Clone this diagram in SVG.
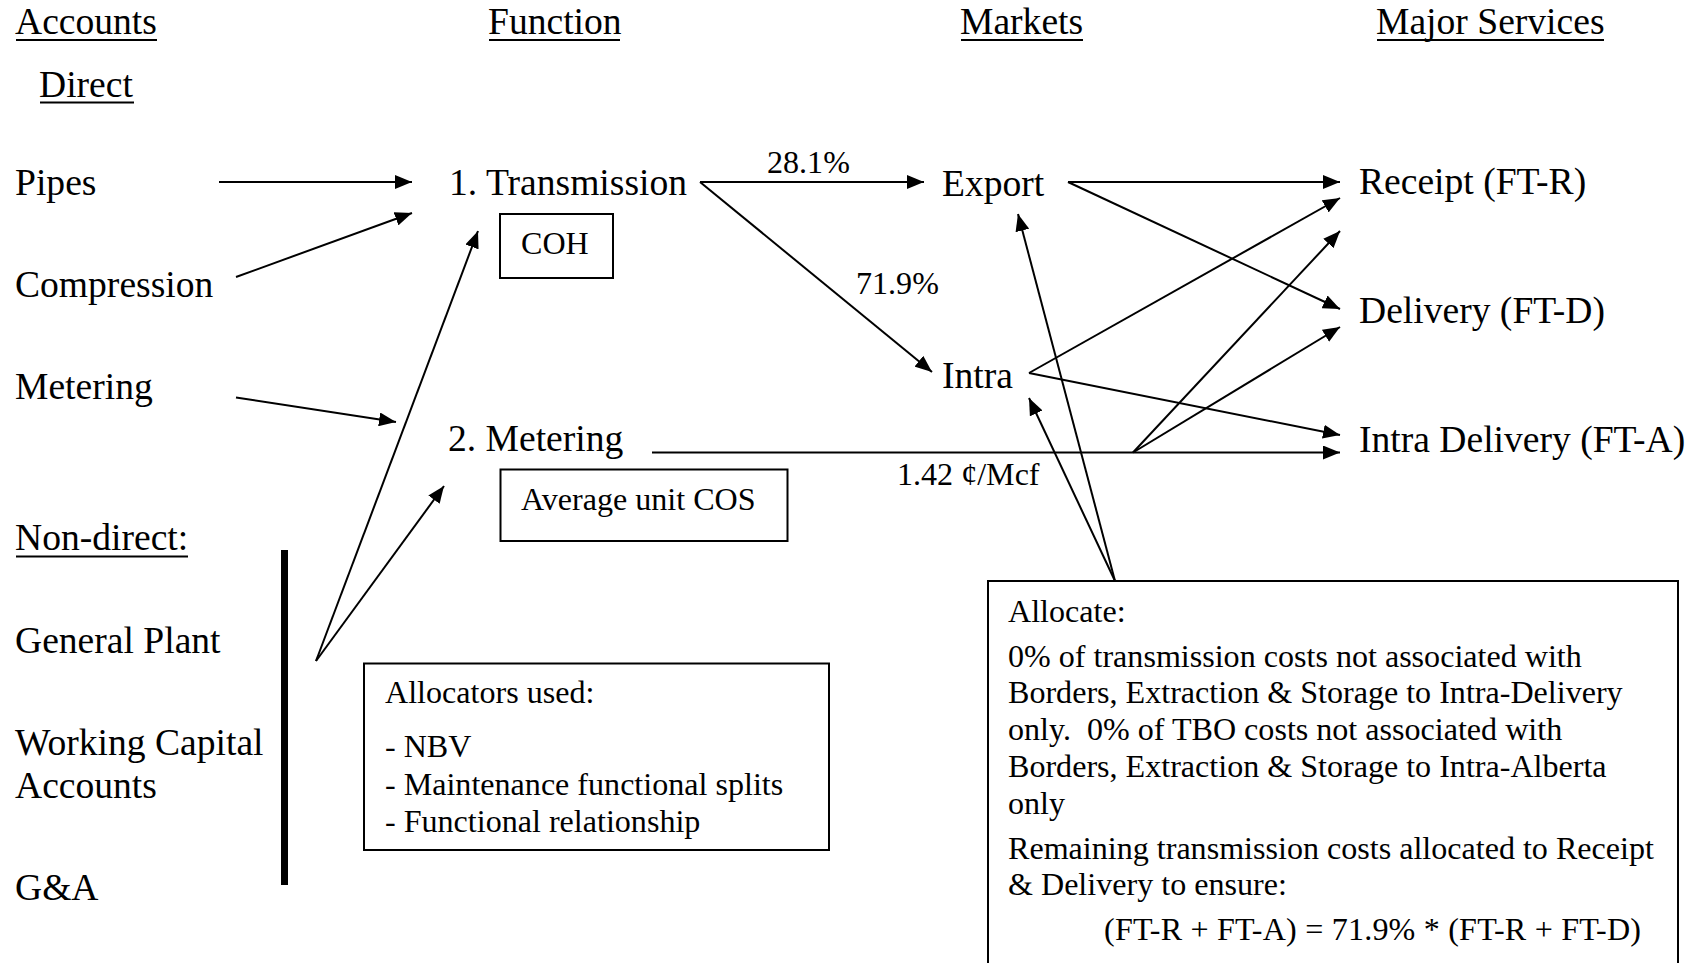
<svg xmlns="http://www.w3.org/2000/svg" width="1703" height="963" viewBox="0 0 1703 963">
<style>
text{font-family:"Liberation Serif","Times New Roman",serif;fill:#000}
.m{font-size:37.6px}
.s{font-size:32.1px}
.ul{stroke:#000;stroke-width:2}
.c{stroke:#000;stroke-width:2;fill:none;marker-end:url(#ah)}
.box{fill:#fff;stroke:#000;stroke-width:2}
</style>
<defs>
<marker id="ah" markerUnits="userSpaceOnUse" markerWidth="18" markerHeight="14" refX="17" refY="7" orient="auto">
<path d="M0,0 L17,7 L0,14 z" fill="#000"/>
</marker>
</defs>
<rect width="1703" height="963" fill="#fff"/>
<g id="headers">
<text class="m" x="15" y="34">Accounts</text><line class="ul" x1="16" y1="40" x2="157" y2="40"/>
<text class="m" x="488" y="34">Function</text><line class="ul" x1="489" y1="40" x2="620" y2="40"/>
<text class="m" x="960" y="34">Markets</text><line class="ul" x1="961" y1="40" x2="1083" y2="40"/>
<text class="m" x="1376" y="34">Major Services</text><line class="ul" x1="1377" y1="40" x2="1604" y2="40"/>
<text class="m" x="39" y="96.5">Direct</text><line class="ul" x1="40" y1="102.5" x2="134" y2="102.5"/>
<text class="m" x="15" y="550">Non-direct:</text><line class="ul" x1="16" y1="556.5" x2="188" y2="556.5"/>
</g>
<g id="connectors">
<line class="c" x1="219" y1="182" x2="412" y2="182"/>
<line class="c" x1="236" y1="277" x2="412" y2="213"/>
<line class="c" x1="236" y1="397.5" x2="396" y2="422"/>
<line class="c" x1="316" y1="661" x2="478" y2="231"/>
<line class="c" x1="316" y1="661" x2="444" y2="486"/>
<line class="c" x1="700" y1="182" x2="924" y2="182"/>
<line class="c" x1="700" y1="182" x2="932" y2="372"/>
<line class="c" x1="1068" y1="182" x2="1340" y2="182"/>
<line class="c" x1="1068" y1="182" x2="1340" y2="309"/>
<line class="c" x1="1029" y1="373" x2="1340" y2="198"/>
<line class="c" x1="1029" y1="373" x2="1340" y2="435"/>
<line class="c" x1="652" y1="452.5" x2="1340" y2="452.5"/>
<line class="c" x1="1133" y1="452.5" x2="1340" y2="231"/>
<line class="c" x1="1133" y1="452.5" x2="1340" y2="327"/>
<line class="c" x1="1115" y1="581" x2="1018" y2="214"/>
<line class="c" x1="1115" y1="581" x2="1029" y2="398"/>
<line x1="284.5" y1="550" x2="284.5" y2="885" stroke="#000" stroke-width="7"/>
</g>
<g id="labels">
<text class="s" x="767" y="173">28.1%</text>
<text class="s" x="856" y="293.5">71.9%</text>
<text class="s" x="897" y="484.5">1.42 ¢/Mcf</text>
</g>
<g id="acc-pipes"><text class="m" x="15" y="194.5">Pipes</text></g>
<g id="acc-compression"><text class="m" x="15" y="296.5">Compression</text></g>
<g id="acc-metering"><text class="m" x="15" y="398.5">Metering</text></g>
<g id="acc-general-plant"><text class="m" x="15" y="653">General Plant</text></g>
<g id="acc-working-capital"><text class="m" x="15" y="755">Working Capital</text><text class="m" x="15" y="798">Accounts</text></g>
<g id="acc-ga"><text class="m" x="15" y="900">G&amp;A</text></g>
<g id="fn-transmission"><text class="m" x="449" y="194.5">1. Transmission</text>
<rect class="box" x="500" y="214" width="113" height="64"/>
<text class="s" x="521" y="254">COH</text></g>
<g id="fn-metering"><text class="m" x="448" y="451">2. Metering</text>
<rect class="box" x="500.5" y="469.5" width="287" height="71.5"/>
<text class="s" x="521" y="510">Average unit COS</text></g>
<g id="mk-export"><text class="m" x="942" y="195.5">Export</text></g>
<g id="mk-intra"><text class="m" x="942" y="388">Intra</text></g>
<g id="sv-receipt"><text class="m" x="1359" y="194">Receipt (FT-R)</text></g>
<g id="sv-delivery"><text class="m" x="1359" y="323">Delivery (FT-D)</text></g>
<g id="sv-intra-delivery"><text class="m" x="1359" y="452">Intra Delivery (FT-A)</text></g>
<g id="allocators-box">
<rect class="box" x="364" y="663.5" width="465" height="186.5"/>
<text class="s" x="385" y="703">Allocators used:</text>
<text class="s" x="385" y="757">- NBV</text>
<text class="s" x="385" y="795">- Maintenance functional splits</text>
<text class="s" x="385" y="832">- Functional relationship</text>
</g>
<g id="allocate-box">
<rect class="box" x="988" y="581" width="690" height="400"/>
<text class="s" x="1008" y="622">Allocate:</text>
<text class="s" x="1008" y="667">0% of transmission costs not associated with</text>
<text class="s" x="1008" y="703">Borders, Extraction &amp; Storage to Intra-Delivery</text>
<text class="s" x="1008" y="740" xml:space="preserve">only.  0% of TBO costs not associated with</text>
<text class="s" x="1008" y="777">Borders, Extraction &amp; Storage to Intra-Alberta</text>
<text class="s" x="1008" y="813.5">only</text>
<text class="s" x="1008" y="859">Remaining transmission costs allocated to Receipt</text>
<text class="s" x="1008" y="895">&amp; Delivery to ensure:</text>
<text class="s" x="1104" y="940" textLength="537" lengthAdjust="spacing">(FT-R + FT-A) = 71.9% * (FT-R + FT-D)</text>
</g>
</svg>
